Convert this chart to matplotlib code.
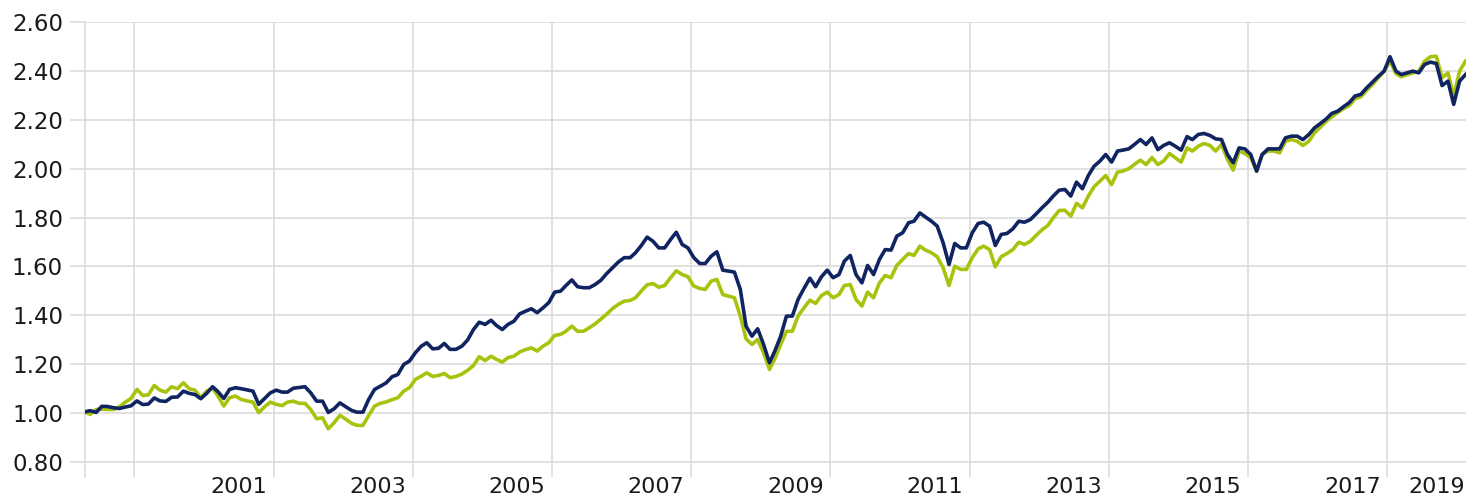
import matplotlib
matplotlib.use("Agg")
import matplotlib.pyplot as plt
import pandas as pd
import datetime as dt

start_month = "1999-04-01"

navy_values = [
    1.005, 1.010, 1.003, 1.028, 1.027, 1.022, 1.019, 1.025, 1.030, 1.050,
    1.035, 1.037, 1.062, 1.050, 1.048, 1.065, 1.066, 1.090, 1.081, 1.076,
    1.059, 1.081, 1.108, 1.088, 1.060, 1.097, 1.104, 1.100, 1.095, 1.090,
    1.036, 1.060, 1.083, 1.094, 1.086, 1.086, 1.102, 1.105, 1.108, 1.083,
    1.049, 1.049, 1.003, 1.018, 1.042, 1.026, 1.011, 1.004, 1.004, 1.056,
    1.097, 1.110, 1.124, 1.149, 1.158, 1.199, 1.213, 1.247, 1.274, 1.288,
    1.263, 1.265, 1.285, 1.261, 1.261, 1.274, 1.299, 1.342, 1.372, 1.363,
    1.380, 1.359, 1.342, 1.363, 1.376, 1.406, 1.417, 1.427, 1.411, 1.431,
    1.452, 1.495, 1.499, 1.522, 1.545, 1.517, 1.513, 1.513, 1.526, 1.544,
    1.571, 1.595, 1.618, 1.636, 1.636, 1.656, 1.686, 1.720, 1.703, 1.676,
    1.676, 1.710, 1.740, 1.690, 1.676, 1.636, 1.612, 1.612, 1.642, 1.660,
    1.585, 1.581, 1.577, 1.506, 1.356, 1.315, 1.345, 1.281, 1.206, 1.254,
    1.315, 1.397, 1.397, 1.465, 1.510, 1.552, 1.517, 1.558, 1.585, 1.554,
    1.567, 1.622, 1.645, 1.567, 1.533, 1.604, 1.567, 1.629, 1.669, 1.667,
    1.724, 1.738, 1.779, 1.785, 1.819, 1.802, 1.785, 1.765, 1.697, 1.608,
    1.694, 1.676, 1.676, 1.738, 1.776, 1.781, 1.765, 1.686, 1.731, 1.735,
    1.754, 1.785, 1.781, 1.792, 1.815, 1.840, 1.863, 1.888, 1.912, 1.915,
    1.888, 1.945, 1.918, 1.972, 2.010, 2.031, 2.058, 2.027, 2.072, 2.076,
    2.081, 2.099, 2.119, 2.099, 2.126, 2.078, 2.095, 2.106, 2.092, 2.076,
    2.131, 2.119, 2.140, 2.144, 2.136, 2.122, 2.119, 2.058, 2.024, 2.085,
    2.081, 2.058, 1.990, 2.058, 2.081, 2.081, 2.081, 2.126, 2.133, 2.133,
    2.119, 2.140, 2.167, 2.185, 2.204, 2.226, 2.235, 2.253, 2.270, 2.297,
    2.304, 2.331, 2.354, 2.378, 2.399, 2.458, 2.399, 2.385, 2.392, 2.399,
    2.392, 2.426, 2.436, 2.430, 2.340, 2.358, 2.263, 2.358, 2.385,
]

lime_values = [
    1.005, 0.995, 1.015, 1.016, 1.015, 1.015, 1.026, 1.045, 1.060, 1.097,
    1.072, 1.075, 1.113, 1.094, 1.086, 1.108, 1.100, 1.124, 1.100, 1.094,
    1.063, 1.090, 1.102, 1.070, 1.029, 1.063, 1.070, 1.056, 1.050, 1.045,
    1.002, 1.026, 1.045, 1.036, 1.031, 1.045, 1.049, 1.040, 1.040, 1.015,
    0.977, 0.981, 0.936, 0.961, 0.991, 0.975, 0.958, 0.950, 0.950, 0.990,
    1.029, 1.040, 1.046, 1.055, 1.063, 1.090, 1.104, 1.138, 1.151, 1.165,
    1.150, 1.154, 1.162, 1.145, 1.150, 1.160, 1.175, 1.195, 1.231, 1.215,
    1.233, 1.220, 1.209, 1.227, 1.233, 1.250, 1.260, 1.267, 1.254, 1.274,
    1.288, 1.318, 1.322, 1.335, 1.356, 1.335, 1.335, 1.349, 1.365, 1.385,
    1.405, 1.428, 1.445, 1.458, 1.461, 1.472, 1.500, 1.525, 1.530, 1.515,
    1.522, 1.554, 1.582, 1.567, 1.558, 1.520, 1.510, 1.506, 1.540, 1.547,
    1.485, 1.479, 1.472, 1.397, 1.304, 1.281, 1.301, 1.247, 1.179, 1.222,
    1.281, 1.335, 1.335, 1.397, 1.431, 1.462, 1.449, 1.481, 1.495, 1.472,
    1.485, 1.522, 1.526, 1.465, 1.438, 1.495, 1.472, 1.533, 1.563, 1.554,
    1.604, 1.629, 1.653, 1.645, 1.683, 1.667, 1.656, 1.640, 1.595, 1.522,
    1.601, 1.588, 1.588, 1.636, 1.672, 1.683, 1.669, 1.599, 1.640, 1.653,
    1.669, 1.699, 1.690, 1.703, 1.727, 1.750, 1.768, 1.799, 1.829, 1.830,
    1.806, 1.858, 1.840, 1.888, 1.926, 1.949, 1.972, 1.935, 1.986, 1.990,
    2.000, 2.017, 2.035, 2.017, 2.045, 2.017, 2.031, 2.062, 2.045, 2.027,
    2.085, 2.072, 2.092, 2.103, 2.095, 2.072, 2.099, 2.038, 1.994, 2.072,
    2.062, 2.045, 1.990, 2.058, 2.072, 2.072, 2.065, 2.112, 2.119, 2.112,
    2.095, 2.112, 2.147, 2.170, 2.194, 2.212, 2.229, 2.245, 2.258, 2.286,
    2.294, 2.321, 2.344, 2.372, 2.399, 2.440, 2.389, 2.376, 2.385, 2.392,
    2.399, 2.440, 2.458, 2.460, 2.372, 2.392, 2.297, 2.399, 2.440,
]

y_ticks = [0.80, 1.00, 1.20, 1.40, 1.60, 1.80, 2.00, 2.20, 2.40, 2.60]
grid_years = [2000, 2002, 2004, 2006, 2008, 2010, 2012, 2014, 2016, 2018]
label_years = [2001, 2003, 2005, 2007, 2009, 2011, 2013, 2015, 2017]
last_label = "2019"

dates = pd.date_range(start_month, periods=len(navy_values), freq="MS") + pd.Timedelta(days=14)

GRID = "#d9d9d9"
NAVY = "#0f2460"
LIME = "#a9c20e"
TEXT = "#1a1a1a"

plt.rcParams["font.family"] = ["DejaVu Sans"]

fig = plt.figure(figsize=(14.67, 4.99), dpi=100)
ax = fig.add_axes([84.5 / 1467, 22.3 / 499, (1465.5 - 84.5) / 1467, (476.7 - 22.0) / 499])

ax.plot(dates, lime_values, color=LIME, lw=2.6, solid_joinstyle="round", zorder=3)
ax.plot(dates, navy_values, color=NAVY, lw=2.6, solid_joinstyle="round", zorder=4)

ax.set_xlim(dates[0], dates[-1])
ax.set_ylim(0.74, 2.60)

ax.set_yticks(y_ticks)
ax.set_yticklabels([f"{v:.2f}" for v in y_ticks])
ax.tick_params(axis="y", length=11, width=1.1, color=GRID, pad=4.5, labelsize=16.5, labelcolor=TEXT)

major = [dt.datetime(y, 1, 1) for y in grid_years]
ax.set_xticks(major)
ax.set_xticklabels([""] * len(major))
minor = [dt.datetime(y, 7, 1) for y in label_years] + [dates[-1].to_pydatetime()]
ax.set_xticks(minor, minor=True)
ax.set_xticklabels([str(y) for y in label_years] + [last_label], minor=True)
ax.tick_params(axis="x", which="both", length=0, pad=0.5, labelsize=16, labelcolor=TEXT)
ax.get_xticklabels(minor=True)[-1].set_horizontalalignment("right")

ax.grid(True, which="major", axis="both", color=GRID, lw=1.1)
ax.set_axisbelow(True)
for s in ["top", "right", "bottom"]:
    ax.spines[s].set_visible(False)
ax.spines["left"].set_color(GRID)
ax.spines["left"].set_linewidth(1.1)

fig.savefig("out.png", dpi=100)
